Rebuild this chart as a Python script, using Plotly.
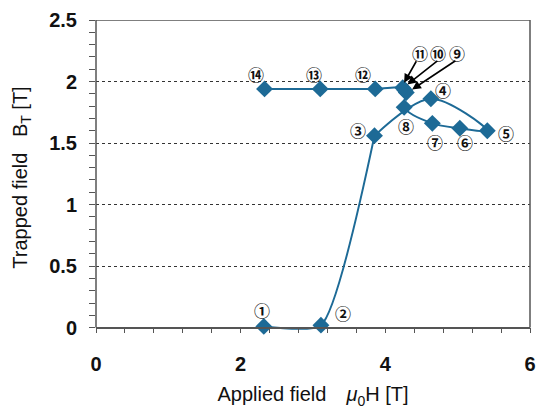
import plotly.graph_objects as go

# Data (applied field, trapped field) for steps 1..14
step_labels = ["①","②","③","④","⑤","⑥","⑦","⑧","⑨","⑩","⑪","⑫","⑬","⑭"]
applied = [2.32, 3.11, 3.85, 4.63, 5.41, 5.03, 4.65, 4.26, 4.29, 4.27, 4.24, 3.86, 3.10, 2.33]
trapped = [0.01, 0.02, 1.56, 1.86, 1.60, 1.62, 1.66, 1.79, 1.91, 1.93, 1.95, 1.94, 1.94, 1.94]

# label positions (data coords) for labels drawn next to points
label_idx = [0, 1, 2, 3, 4, 5, 6, 7, 11, 12, 13]
label_x = [2.30, 3.42, 3.62, 4.80, 5.67, 5.10, 4.68, 4.28, 3.69, 3.02, 2.21]
label_y = [0.14, 0.12, 1.61, 1.935, 1.58, 1.505, 1.505, 1.64, 2.06, 2.06, 2.06]

# arrow labels for 9,10,11
arrow_idx = [8, 9, 10]
arrow_lx = [4.99, 4.73, 4.48]
arrow_ly = [2.23, 2.23, 2.23]
arrow_tail_x = [4.99, 4.74, 4.44]
arrow_tail_y = [2.177, 2.177, 2.177]
arrow_head_x = [4.37, 4.305, 4.26]
arrow_head_y = [1.935, 1.976, 1.99]

color = "#1d6a96"
txt = "#111"
circ_font = dict(family="Noto Sans CJK JP", size=16, color=txt, weight="bold")

fig = go.Figure()
# rising branch (steps 1-3) and the rest (steps 3-14), each as a smoothed line
fig.add_trace(go.Scatter(
    x=applied[:3], y=trapped[:3], mode="lines",
    line=dict(color=color, width=2, shape="spline", smoothing=0.55),
    showlegend=False, hoverinfo="skip"))
fig.add_trace(go.Scatter(
    x=applied[2:], y=trapped[2:], mode="lines",
    line=dict(color=color, width=2, shape="spline", smoothing=0.9),
    showlegend=False, hoverinfo="skip"))
fig.add_trace(go.Scatter(
    x=applied, y=trapped, mode="markers",
    marker=dict(symbol="diamond", size=13, color=color),
    showlegend=False, hoverinfo="skip"))

for i, lx, ly in zip(label_idx, label_x, label_y):
    fig.add_annotation(x=lx, y=ly, text=step_labels[i], showarrow=False, font=circ_font)

for i, lx, ly, tx, ty, hx, hy in zip(arrow_idx, arrow_lx, arrow_ly, arrow_tail_x, arrow_tail_y, arrow_head_x, arrow_head_y):
    fig.add_annotation(x=lx, y=ly, text=step_labels[i], showarrow=False, font=circ_font)
    fig.add_annotation(x=hx, y=hy, ax=tx, ay=ty, axref="x", ayref="y", xref="x", yref="y",
                       text="", showarrow=True, arrowhead=2, arrowsize=1.1, arrowwidth=1.6,
                       arrowcolor="black", standoff=0, startstandoff=0)

axis_col = "#555"
ymin = -0.06
tick_font = dict(family="Liberation Sans", size=20, color=txt, weight="bold")
title_font = dict(family="Liberation Sans", size=20, color=txt)
fig.update_layout(
    width=544, height=409,
    margin=dict(l=96, r=8, t=20, b=72),
    plot_bgcolor="white", paper_bgcolor="white",
    xaxis=dict(range=[0, 6], dtick=2, tick0=0, showgrid=False, zeroline=False,
               showline=True, linecolor=axis_col, linewidth=1.5,
               anchor="free", position=(0 - ymin) / (2.5 - ymin),
               ticks="outside", ticklen=5, tickcolor=axis_col,
               minor=dict(dtick=0.4, ticks="outside", ticklen=5, tickcolor=axis_col),
               tickfont=tick_font, ticklabelstandoff=14,
               title=dict(text="Applied field\u3000<i>μ</i><sub>0</sub>H [T]",
                          font=title_font, standoff=12)),
    yaxis=dict(range=[ymin, 2.5], dtick=0.5, tick0=0, showgrid=True,
               gridcolor="#333", griddash="dot", gridwidth=1, zeroline=False,
               showline=False, ticks="outside", ticklen=6, tickcolor=axis_col,
               minor=dict(dtick=0.1, ticks="outside", ticklen=6, tickcolor=axis_col, showgrid=False),
               tickfont=tick_font, ticklabelstandoff=8,
               title=dict(text="Trapped field\u2002 B<sub>T</sub> [T]",
                          font=title_font, standoff=16)),
)

# frame: left axis line, right and top border (from y=0 to 2.5)
fig.add_shape(type="line", xref="paper", yref="y", x0=0, x1=0, y0=0, y1=2.5,
              line=dict(color=axis_col, width=1.5))
fig.add_shape(type="line", xref="paper", yref="y", x0=1, x1=1, y0=0, y1=2.5,
              line=dict(color=axis_col, width=1.5))
fig.add_shape(type="line", xref="paper", yref="y", x0=0, x1=1, y0=2.5, y1=2.5,
              line=dict(color=axis_col, width=1.5))

fig.write_html("out.html")
